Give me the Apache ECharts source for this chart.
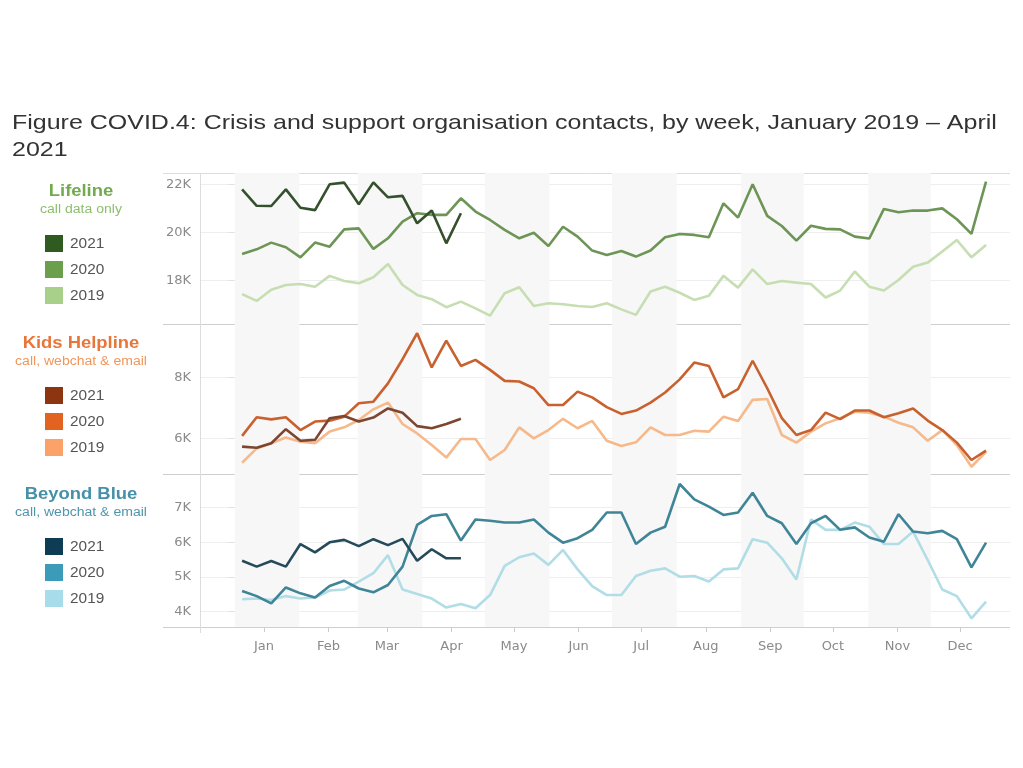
<!DOCTYPE html>
<html><head><meta charset="utf-8">
<script src="https://cdn.jsdelivr.net/npm/echarts@6/dist/echarts.min.js"></script>
<style>html,body{margin:0;padding:0;background:#fff}#c{width:1023px;height:768px}</style>
</head><body><div id="c"></div>
<script>
// ---- axis labels / calendar helpers ----
const months = ['Jan','Feb','Mar','Apr','May','Jun','Jul','Aug','Sep','Oct','Nov','Dec'];
const monthMidDay = [14,45,73,104,134,165,195,226,257,287,318,348];
const shadedStart = [0,59,120,181,243,304];   // Jan, Mar, May, Jul, Sep, Nov
const shadedEnd   = [31,90,151,212,273,334];
const firstWeekDay = 3.5;  // day-of-year of first weekly observation
const daysPerWeek = 7;

// ---- data (thousands of contacts per week) ----
const lifeline2021 = [21.79,21.11,21.10,21.79,21.03,20.93,22.00,22.07,21.17,22.08,21.46,21.52,20.38,20.91,19.55,20.80];
const lifeline2020 = [19.11,19.30,19.58,19.39,18.97,19.58,19.41,20.13,20.17,19.32,19.76,20.45,20.80,20.73,20.73,21.42,20.87,20.52,20.11,19.76,19.99,19.44,20.24,19.83,19.25,
  19.07,19.23,19.00,19.25,19.80,19.94,19.90,19.80,21.21,20.62,22.00,20.69,20.27,19.66,20.28,20.15,20.13,19.83,19.75,20.98,20.84,20.91,20.91,21.00,20.55,19.94,22.11];
const lifeline2019 = [17.44,17.16,17.62,17.82,17.86,17.75,18.20,17.99,17.89,18.14,18.69,17.82,17.41,17.23,16.90,17.13,16.85,16.55,17.48,17.73,16.95,17.06,17.02,16.95,16.91,
  17.06,16.81,16.58,17.55,17.75,17.50,17.20,17.37,18.20,17.71,18.47,17.86,17.99,17.92,17.86,17.30,17.59,18.38,17.75,17.59,18.03,18.58,18.75,19.21,19.69,18.97,19.48];

const khl2021 = [5.73,5.69,5.84,6.30,5.92,5.95,6.66,6.73,6.55,6.68,6.98,6.84,6.40,6.33,6.47,6.64];
const khl2020 = [6.08,6.69,6.62,6.69,6.27,6.55,6.58,6.71,7.15,7.20,7.80,8.59,9.44,8.32,9.20,8.37,8.57,8.24,7.88,7.86,7.64,7.09,7.09,7.53,7.34,
  7.02,6.80,6.91,7.17,7.50,7.93,8.48,8.37,7.34,7.61,8.54,7.64,6.66,6.11,6.27,6.84,6.63,6.91,6.91,6.69,6.82,6.98,6.58,6.27,5.86,5.29,5.60];
const khl2019 = [5.20,5.67,5.84,6.03,5.89,5.84,6.22,6.36,6.60,6.95,7.17,6.47,6.16,5.78,5.37,5.98,5.98,5.29,5.62,6.36,6.00,6.27,6.64,6.33,6.57,
  5.92,5.75,5.87,6.36,6.11,6.11,6.25,6.22,6.71,6.57,7.26,7.29,6.11,5.86,6.22,6.49,6.66,6.87,6.84,6.71,6.51,6.36,5.92,6.27,5.78,5.07,5.56];

const bb2021 = [5.47,5.30,5.46,5.30,5.95,5.71,6.00,6.07,5.89,6.09,5.92,6.10,5.47,5.80,5.54,5.54];
const bb2020 = [4.60,4.45,4.24,4.70,4.53,4.41,4.74,4.89,4.67,4.56,4.77,5.30,6.50,6.76,6.81,6.05,6.66,6.62,6.57,6.57,6.66,6.28,5.99,6.12,6.36,
  6.86,6.86,5.95,6.28,6.45,7.68,7.24,7.03,6.79,6.86,7.43,6.76,6.55,5.95,6.55,6.76,6.36,6.43,6.14,6.02,6.81,6.31,6.26,6.33,6.09,5.28,5.99];
const bb2019 = [4.36,4.38,4.34,4.45,4.38,4.41,4.61,4.64,4.87,5.11,5.63,4.64,4.51,4.38,4.12,4.22,4.10,4.48,5.32,5.57,5.68,5.35,5.78,5.22,4.74,
  4.48,4.48,5.03,5.18,5.25,5.01,5.03,4.87,5.22,5.25,6.09,5.99,5.54,4.93,6.66,6.36,6.36,6.57,6.45,5.95,5.95,6.31,5.49,4.64,4.45,3.81,4.29];

const lifelineTicks = [18,20,22];
const khlTicks = [6,8];
const bbTicks = [4,5,6,7];
const years = ['2021','2020','2019'];

// ---- styling ----
const FONT = '"Liberation Sans", Arial, sans-serif';
const panels = [
  {name:'Lifeline', sub:'call data only', titleColor:'#72aa50', subColor:'#8cbf6c',
   lines:['#35502d','#6d9556','#c6deb2'], swatches:['#2f5a20','#6b9f4b','#a9d08b'],
   data:[lifeline2021,lifeline2020,lifeline2019], ticks:lifelineTicks, min:16.16, max:22.47,
   top:173, height:152, legendY:191},
  {name:'Kids Helpline', sub:'call, webchat & email', titleColor:'#e8763a', subColor:'#f0965a',
   lines:['#7c4630','#c9612f','#f6b98c'], swatches:['#8c3510','#e2621f','#fba268'],
   data:[khl2021,khl2020,khl2019], ticks:khlTicks, min:4.80, max:9.71,
   top:325, height:150, legendY:343},
  {name:'Beyond Blue', sub:'call, webchat & email', titleColor:'#4690a8', subColor:'#4f96ad',
   lines:['#254b5b','#3f8597','#b0dde6'], swatches:['#0e3c54','#3c9bb8','#a7dcea'],
   data:[bb2021,bb2020,bb2019], ticks:bbTicks, min:3.56, max:7.94,
   top:475, height:152, legendY:494}
];

const xMin = -16.7, xMax = 372;
const grids = [], xAxes = [], yAxes = [], series = [], graphics = [];

const bands = shadedStart.map((s,k)=>[{xAxis:s},{xAxis:shadedEnd[k]}]);

function label(text, x, y, font, fill, align, sx){
  return {type:'text', x:x, y:y, scaleX:sx, style:{text:text, x:0, y:0, align:align, verticalAlign:'middle', fill:fill, font:font}};
}

panels.forEach((p,gi)=>{
  grids.push({left:200, width:810, top:p.top, height:p.height});
  const last = gi === panels.length-1;
  xAxes.push({type:'value', gridIndex:gi, min:xMin, max:xMax,
    axisLine:{show:false}, splitLine:{show:false},
    axisTick:{show:last, customValues:monthMidDay, length:5, lineStyle:{color:'#cccccc'}},
    axisLabel:{show:last, customValues:monthMidDay, color:'#8a8a8a', fontSize:13, fontFamily:'DejaVu Sans', margin:13,
      formatter:v=>months[monthMidDay.indexOf(v)] || ''}
  });
  yAxes.push({type:'value', gridIndex:gi, min:p.min, max:p.max,
    axisLine:{show:false},
    axisTick:{show:true, customValues:p.ticks, length:7, lineStyle:{color:'#e3e3e3'}},
    axisLabel:{customValues:p.ticks, color:'#8a8a8a', fontSize:13, fontFamily:'DejaVu Sans', margin:9, formatter:v=>v+'K'},
    splitLine:{show:true, lineStyle:{color:'#eeeeee', width:1}}
  });
  [2,1,0].forEach(k=>{
    const vals = p.data[k];
    const s = {type:'line', xAxisIndex:gi, yAxisIndex:gi, name:p.name+' '+years[k],
      data: vals.map((v,i)=>[firstWeekDay + daysPerWeek*i, v]),
      symbol:'none', smooth:false, lineStyle:{color:p.lines[k], width:2.6}, itemStyle:{color:p.lines[k]},
      animation:false, z:3+(2-k)};
    if (k===2) s.markArea = {silent:true, itemStyle:{color:'#f7f7f7'}, data:bands, z:1};
    series.push(s);
  });
  // legend
  graphics.push(label(p.name, 81, p.legendY+1, 'bold 16px '+FONT, p.titleColor, 'center', 1.15));
  graphics.push(label(p.sub, 81, p.legendY+19, '12px '+FONT, p.subColor, 'center', 1.17));
  years.forEach((yr,k)=>{
    const yy = p.legendY + 52 + k*26;
    graphics.push({type:'rect', shape:{x:45, y:yy-8, width:18, height:17}, style:{fill:p.swatches[k]}});
    graphics.push(label(yr, 70, yy+1, '14px '+FONT, '#555', 'left', 1.1));
  });
});

// frame lines
graphics.push({type:'line', shape:{x1:163,y1:173.5,x2:1010,y2:173.5}, style:{stroke:'#dddddd', lineWidth:1}});
[324.5,474.5,627.5].forEach(y=>graphics.push({type:'line', shape:{x1:163,y1:y,x2:1010,y2:y}, style:{stroke:'#cfcfcf', lineWidth:1.2}}));
graphics.push({type:'line', shape:{x1:200.5,y1:173,x2:200.5,y2:633}, style:{stroke:'#dcdcdc', lineWidth:1}, z:10});
// title
graphics.push({type:'text', x:12, y:110, scaleX:1.19, style:{text:'Figure COVID.4: Crisis and support organisation contacts, by week, January 2019 – April\n2021',
  x:0, y:0, fill:'#333', font:'21px '+FONT, lineHeight:27}});

const chart = echarts.init(document.getElementById('c'), null, {renderer:'canvas'});
chart.setOption({
  backgroundColor:'#ffffff',
  animation:false,
  grid:grids, xAxis:xAxes, yAxis:yAxes, series:series,
  graphic:{elements:graphics}
});
</script></body></html>
